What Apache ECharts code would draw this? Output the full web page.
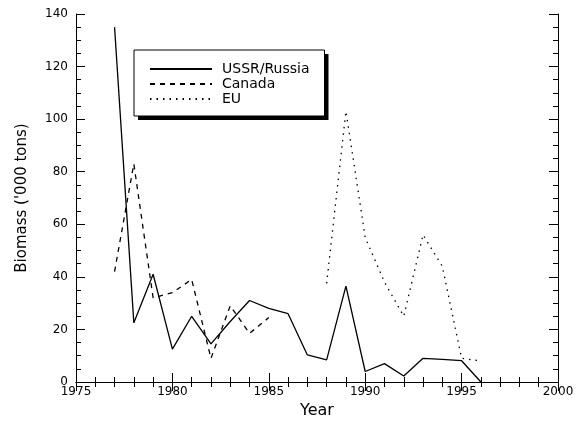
<!DOCTYPE html>
<html>
<head>
<meta charset="utf-8">
<script src="https://cdn.jsdelivr.net/npm/echarts@6/dist/echarts.min.js"></script>
<style>
  html, body { margin: 0; padding: 0; background: #fff; }
  #chart { width: 586px; height: 433px; }
</style>
</head>
<body>
<div id="chart"></div>
<script>
// years on x, biomass ('000 tons) on y
var years = [1977, 1978, 1979, 1980, 1981, 1982, 1983, 1984, 1985, 1986,
             1987, 1988, 1989, 1990, 1991, 1992, 1993, 1994, 1995, 1996];
var ussr = [135, 22.5, 41, 12.5, 25, 14.5, 23, 31, 28, 26,
            10.3, 8.4, 36.5, 4, 7, 2.3, 9, 8.6, 8.1, 0];
var canada = [42, 83, 32, 34, 39, 9, 29, 18.5, 24.5, null,
              null, null, null, null, null, null, null, null, null, null];
var eu = [null, null, null, null, null, null, null, null, null, null,
          null, 37.5, 103, 55, 38, 25, 56, 44, 9, 8];
var names = ['USSR/Russia', 'Canada', 'EU'];

function pairs(vals) {
    var out = [];
    for (var i = 0; i < years.length; i++) {
        out.push([years[i], vals[i]]);
    }
    return out;
}

var chart = echarts.init(document.getElementById('chart'));
var font = 'DejaVu Sans';

var tickCommon = {
    axisLine: {show: true, lineStyle: {color: '#000', width: 1}},
    axisTick: {show: true, inside: true, length: 9, lineStyle: {color: '#000'}},
    minorTick: {show: true, splitNumber: 5, length: 5, lineStyle: {color: '#000'}},
    splitLine: {show: false}
};
var yMinor = {minorTick: {show: true, splitNumber: 4, length: 5, lineStyle: {color: '#000'}}};

// shared legend layout; first copy only casts the heavy shadow
var legendBase = {
    orient: 'vertical',
    left: 134,
    top: 50,
    data: names,
    itemWidth: 62,
    itemHeight: 12,
    itemGap: 1,
    padding: [12, 15, 10, 15],
    itemStyle: {opacity: 0},
    textStyle: {fontFamily: font, fontSize: 14, lineHeight: 14, color: '#000', padding: [0, 0, 0, 5]}
};

var option = {
    animation: false,
    backgroundColor: '#fff',
    grid: {left: 76, right: 28, top: 14, bottom: 51, containLabel: false},
    legend: [
        Object.assign({}, legendBase, {
            backgroundColor: '#fff',
            borderWidth: 0,
            shadowColor: '#000',
            shadowBlur: 0,
            shadowOffsetX: 4,
            shadowOffsetY: 4,
            lineStyle: {opacity: 0},
            textStyle: {fontFamily: font, fontSize: 14, lineHeight: 14, color: 'rgba(0,0,0,0)', padding: [0, 0, 0, 5]}
        }),
        Object.assign({}, legendBase, {
            backgroundColor: 'rgba(0,0,0,0)',
            borderColor: '#000',
            borderWidth: 1
        })
    ],
    xAxis: [
        Object.assign({
            type: 'value', min: 1975, max: 2000, interval: 5,
            name: 'Year', nameLocation: 'middle', nameGap: 17,
            nameTextStyle: {fontFamily: font, fontSize: 16, color: '#000'},
            axisLabel: {fontFamily: font, fontSize: 12, color: '#000', margin: 4,
                        formatter: function (v) { return String(v); }}
        }, tickCommon),
        Object.assign({
            type: 'value', min: 1975, max: 2000, interval: 5, position: 'top',
            axisLabel: {show: false}
        }, tickCommon)
    ],
    yAxis: [
        Object.assign({
            type: 'value', min: 0, max: 140, interval: 20,
            name: "Biomass ('000 tons)", nameLocation: 'middle', nameGap: 46,
            nameTextStyle: {fontFamily: font, fontSize: 15, color: '#000'},
            axisLabel: {fontFamily: font, fontSize: 12, color: '#000', margin: 8}
        }, tickCommon, yMinor),
        Object.assign({
            type: 'value', min: 0, max: 140, interval: 20, position: 'right',
            axisLabel: {show: false}
        }, tickCommon, yMinor)
    ],
    series: [
        {
            name: 'USSR/Russia',
            type: 'line',
            symbol: 'none',
            data: pairs(ussr),
            lineStyle: {color: '#000', width: 1.3, type: 'solid'},
            itemStyle: {color: '#000'}
        },
        {
            name: 'Canada',
            type: 'line',
            symbol: 'none',
            data: pairs(canada),
            lineStyle: {color: '#000', width: 1.3, type: [5, 5]},
            itemStyle: {color: '#000'}
        },
        {
            name: 'EU',
            type: 'line',
            symbol: 'none',
            data: pairs(eu),
            lineStyle: {color: '#000', width: 1.3, type: [1.5, 5]},
            itemStyle: {color: '#000'}
        }
    ]
};

chart.setOption(option);
</script>
</body>
</html>
